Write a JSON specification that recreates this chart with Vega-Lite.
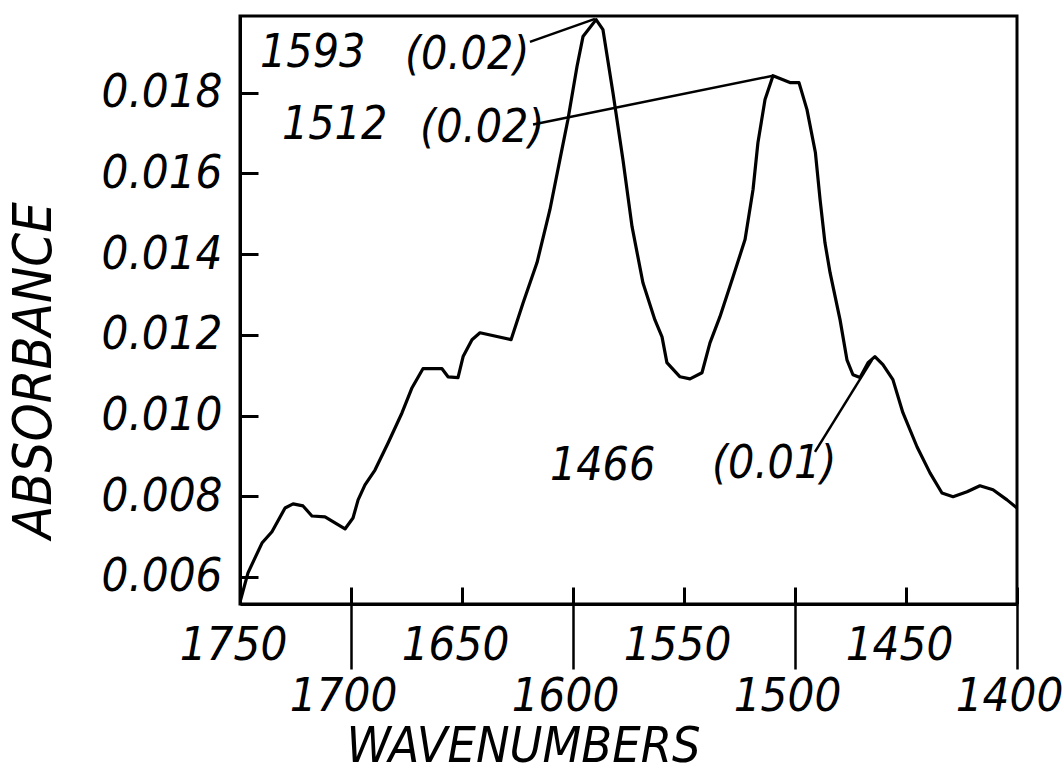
{
  "$schema": "https://vega.github.io/schema/vega-lite/v6.json",
  "width": 777,
  "height": 588,
  "autosize": {"type": "none"},
  "padding": {"left": 240, "top": 16, "right": 46, "bottom": 165},
  "background": "white",
  "config": {
    "view": {"stroke": "black", "strokeWidth": 3},
    "axis": {
      "grid": false,
      "domainColor": "black",
      "domainWidth": 3,
      "tickColor": "black",
      "labelColor": "black",
      "titleColor": "black",
      "labelFont": "DejaVu Sans Condensed, DejaVu Sans, sans-serif",
      "labelFontSize": 47,
      "labelFontStyle": "italic",
      "labelFontWeight": "normal",
      "titleFont": "DejaVu Sans Condensed, DejaVu Sans, sans-serif",
      "titleFontSize": 50,
      "titleFontStyle": "italic",
      "titleFontWeight": "normal"
    }
  },
  "datasets": {
    "spectrum": [
      {"wavenumber": 1750.0, "absorbance": 0.00538},
      {"wavenumber": 1746.4, "absorbance": 0.00610},
      {"wavenumber": 1740.1, "absorbance": 0.00684},
      {"wavenumber": 1735.6, "absorbance": 0.00712},
      {"wavenumber": 1729.7, "absorbance": 0.00771},
      {"wavenumber": 1726.1, "absorbance": 0.00781},
      {"wavenumber": 1721.6, "absorbance": 0.00776},
      {"wavenumber": 1717.6, "absorbance": 0.00751},
      {"wavenumber": 1711.7, "absorbance": 0.00749},
      {"wavenumber": 1707.2, "absorbance": 0.00734},
      {"wavenumber": 1702.7, "absorbance": 0.00719},
      {"wavenumber": 1699.1, "absorbance": 0.00746},
      {"wavenumber": 1696.8, "absorbance": 0.00791},
      {"wavenumber": 1693.7, "absorbance": 0.00828},
      {"wavenumber": 1689.2, "absorbance": 0.00865},
      {"wavenumber": 1683.3, "absorbance": 0.00932},
      {"wavenumber": 1677.0, "absorbance": 0.01007},
      {"wavenumber": 1672.5, "absorbance": 0.01069},
      {"wavenumber": 1667.6, "absorbance": 0.01116},
      {"wavenumber": 1659.0, "absorbance": 0.01116},
      {"wavenumber": 1656.3, "absorbance": 0.01096},
      {"wavenumber": 1651.8, "absorbance": 0.01094},
      {"wavenumber": 1649.5, "absorbance": 0.01146},
      {"wavenumber": 1645.5, "absorbance": 0.01188},
      {"wavenumber": 1641.9, "absorbance": 0.01205},
      {"wavenumber": 1627.9, "absorbance": 0.01188},
      {"wavenumber": 1622.5, "absorbance": 0.01279},
      {"wavenumber": 1616.2, "absorbance": 0.01379},
      {"wavenumber": 1610.4, "absorbance": 0.01510},
      {"wavenumber": 1605.9, "absorbance": 0.01634},
      {"wavenumber": 1602.3, "absorbance": 0.01733},
      {"wavenumber": 1598.2, "absorbance": 0.01865},
      {"wavenumber": 1595.5, "absorbance": 0.01939},
      {"wavenumber": 1589.6, "absorbance": 0.01981},
      {"wavenumber": 1586.5, "absorbance": 0.01956},
      {"wavenumber": 1582.0, "absorbance": 0.01800},
      {"wavenumber": 1577.5, "absorbance": 0.01634},
      {"wavenumber": 1573.4, "absorbance": 0.01468},
      {"wavenumber": 1568.5, "absorbance": 0.01329},
      {"wavenumber": 1563.1, "absorbance": 0.01237},
      {"wavenumber": 1559.9, "absorbance": 0.01195},
      {"wavenumber": 1557.7, "absorbance": 0.01131},
      {"wavenumber": 1551.8, "absorbance": 0.01096},
      {"wavenumber": 1547.3, "absorbance": 0.01091},
      {"wavenumber": 1541.9, "absorbance": 0.01106},
      {"wavenumber": 1538.3, "absorbance": 0.01180},
      {"wavenumber": 1533.8, "absorbance": 0.01245},
      {"wavenumber": 1527.9, "absorbance": 0.01344},
      {"wavenumber": 1522.5, "absorbance": 0.01436},
      {"wavenumber": 1518.9, "absorbance": 0.01560},
      {"wavenumber": 1516.7, "absorbance": 0.01676},
      {"wavenumber": 1513.5, "absorbance": 0.01783},
      {"wavenumber": 1509.9, "absorbance": 0.01842},
      {"wavenumber": 1505.4, "absorbance": 0.01832},
      {"wavenumber": 1502.3, "absorbance": 0.01825},
      {"wavenumber": 1498.2, "absorbance": 0.01825},
      {"wavenumber": 1494.6, "absorbance": 0.01758},
      {"wavenumber": 1490.8, "absorbance": 0.01651},
      {"wavenumber": 1488.7, "absorbance": 0.01535},
      {"wavenumber": 1486.5, "absorbance": 0.01428},
      {"wavenumber": 1484.2, "absorbance": 0.01354},
      {"wavenumber": 1479.7, "absorbance": 0.01237},
      {"wavenumber": 1476.6, "absorbance": 0.01138},
      {"wavenumber": 1473.9, "absorbance": 0.01101},
      {"wavenumber": 1470.7, "absorbance": 0.01094},
      {"wavenumber": 1467.1, "absorbance": 0.01131},
      {"wavenumber": 1464.0, "absorbance": 0.01146},
      {"wavenumber": 1460.4, "absorbance": 0.01126},
      {"wavenumber": 1455.9, "absorbance": 0.01089},
      {"wavenumber": 1451.4, "absorbance": 0.01007},
      {"wavenumber": 1445.0, "absorbance": 0.00922},
      {"wavenumber": 1439.2, "absorbance": 0.00858},
      {"wavenumber": 1433.8, "absorbance": 0.00808},
      {"wavenumber": 1428.8, "absorbance": 0.00799},
      {"wavenumber": 1422.5, "absorbance": 0.00811},
      {"wavenumber": 1416.7, "absorbance": 0.00826},
      {"wavenumber": 1410.8, "absorbance": 0.00816},
      {"wavenumber": 1404.5, "absorbance": 0.00791},
      {"wavenumber": 1400.0, "absorbance": 0.00771}
    ],
    "leaders": [
      {"wn_start": 1619.4, "abs_start": 0.01926, "wn_end": 1590.1, "abs_end": 0.01983},
      {"wn_start": 1618.0, "abs_start": 0.01721, "wn_end": 1509.9, "abs_end": 0.01842},
      {"wn_start": 1491.0, "abs_start": 0.00910, "wn_end": 1465.3, "abs_end": 0.01138}
    ],
    "labels": [
      {"label": "1593", "wn": 1741.0, "abs": 0.01899},
      {"label": "(0.02)", "wn": 1675.7, "abs": 0.01894},
      {"label": "1512", "wn": 1731.1, "abs": 0.01721},
      {"label": "(0.02)", "wn": 1668.9, "abs": 0.01713},
      {"label": "1466", "wn": 1610.4, "abs": 0.00875},
      {"label": "(0.01)", "wn": 1537.4, "abs": 0.00880}
    ]
  },
  "layer": [
    {
      "data": {"name": "spectrum"},
      "mark": {"type": "line", "color": "black", "strokeWidth": 3.2, "strokeJoin": "round", "clip": true},
      "encoding": {
        "x": {
          "field": "wavenumber",
          "type": "quantitative",
          "scale": {"domain": [1400, 1750], "reverse": true, "nice": false, "zero": false},
          "axis": {
            "orient": "bottom",
            "values": [1750, 1700, 1650, 1600, 1550, 1500, 1450, 1400],
            "format": "d",
            "tickSize": -17,
            "tickWidth": 3,
            "labelExpr": "datum.value % 100 == 50 ? datum.label : ''",
            "labelPadding": 35,
            "labelFlush": false,
            "labelOverlap": false,
            "labelBound": false,
            "labelOffset": -7,
            "title": null
          }
        },
        "y": {
          "field": "absorbance",
          "type": "quantitative",
          "scale": {"domain": [0.00533, 0.0199], "nice": false, "zero": false},
          "axis": {
            "values": [0.006, 0.008, 0.01, 0.012, 0.014, 0.016, 0.018],
            "format": ".3f",
            "tickSize": -18,
            "tickWidth": 3,
            "labelPadding": 36,
            "labelFlush": false,
            "labelOverlap": false,
            "labelBound": false,
            "title": "ABSORBANCE",
            "titleFontSize": 54,
            "titleAngle": -90,
            "titleX": -206,
            "titleY": 354,
            "titleAlign": "center",
            "titleBaseline": "middle"
          }
        }
      }
    },
    {
      "data": {"name": "leaders"},
      "mark": {"type": "rule", "color": "black", "strokeWidth": 2.5},
      "encoding": {
        "x": {
          "field": "wn_start",
          "type": "quantitative",
          "scale": {"domain": [1400, 1750], "reverse": true, "nice": false, "zero": false},
          "axis": {
            "orient": "bottom",
            "values": [1700, 1600, 1500, 1400],
            "format": "d",
            "tickSize": 65,
            "tickWidth": 2.5,
            "domain": false,
            "labelPadding": 4,
            "labelFlush": false,
            "labelOverlap": false,
            "labelBound": false,
            "labelOffset": -8,
            "title": "WAVENUMBERS",
            "titleX": 283,
            "titleY": 157,
            "titleAlign": "center",
            "titleBaseline": "alphabetic"
          }
        },
        "x2": {"field": "wn_end"},
        "y": {"field": "abs_start", "type": "quantitative"},
        "y2": {"field": "abs_end"}
      }
    },
    {
      "data": {"name": "labels"},
      "mark": {
        "type": "text",
        "align": "left",
        "baseline": "middle",
        "font": "DejaVu Sans Condensed, DejaVu Sans, sans-serif",
        "fontSize": 46,
        "fontStyle": "italic",
        "color": "black"
      },
      "encoding": {
        "x": {
          "field": "wn",
          "type": "quantitative",
          "scale": {"domain": [1400, 1750], "reverse": true, "nice": false, "zero": false},
          "axis": null
        },
        "y": {"field": "abs", "type": "quantitative"},
        "text": {"field": "label"}
      }
    }
  ],
  "resolve": {"axis": {"x": "independent"}}
}
